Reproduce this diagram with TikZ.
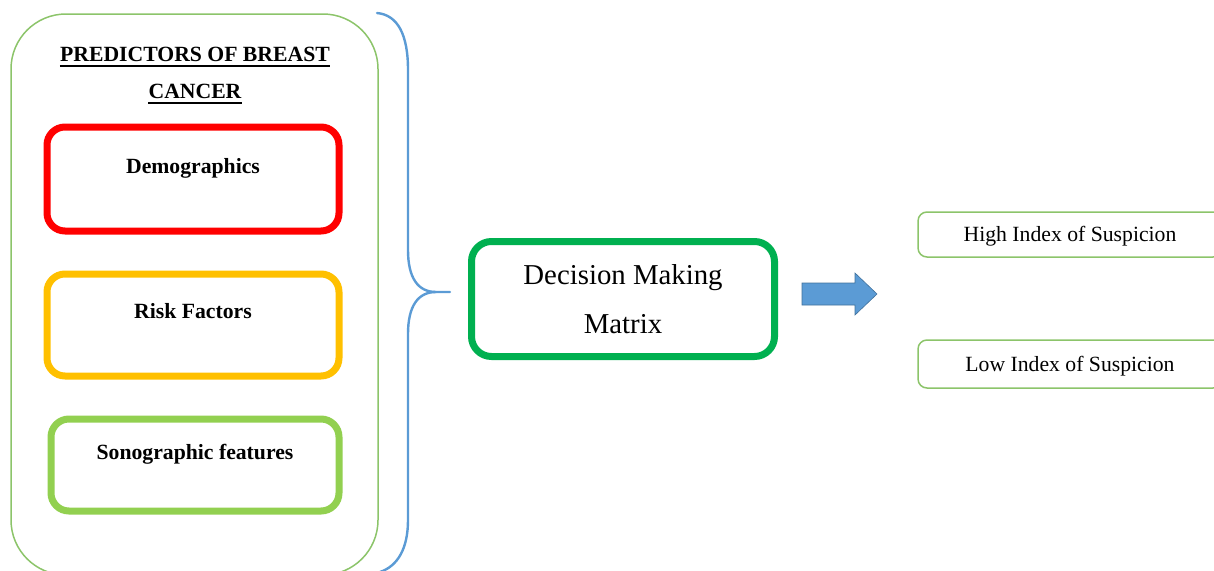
\documentclass[tikz,border=0pt]{standalone}
\usepackage{fontspec}
\setmainfont{Liberation Serif}
\usetikzlibrary{positioning,calc}
\definecolor{predred}{HTML}{FF0000}
\definecolor{predyellow}{HTML}{FFC000}
\definecolor{predgreen}{HTML}{92D050}
\definecolor{framegreen}{HTML}{8CC46A}
\definecolor{decgreen}{HTML}{00B050}
\definecolor{braceblue}{HTML}{5B9BD5}
\definecolor{arrowedge}{HTML}{41719C}
\tikzset{
    framebox/.style={rectangle, rounded corners=55pt, draw=framegreen, line width=1.5pt, inner sep=0pt, outer sep=0pt},
    titletxt/.style={anchor=base, inner sep=0pt, font=\fontsize{21.7}{26}\selectfont\bfseries},
    uline/.style={line width=1.8pt},
    predbox/.style={rectangle, rounded corners=18pt, line width=7pt, minimum width=292pt, inner sep=0pt, outer sep=0pt},
    predtxt/.style={anchor=base, inner sep=0pt, font=\fontsize{21.7}{26}\selectfont\bfseries},
    bracestyle/.style={draw=braceblue, line width=2.4pt, line cap=round},
    decbox/.style={rectangle, rounded corners=20pt, draw=decgreen, line width=7pt, minimum width=303pt, minimum height=115pt, align=center, inner sep=0pt, outer sep=0pt, font=\fontsize{28.8}{49}\selectfont},
    blockarrow/.style={fill=braceblue, draw=arrowedge, line width=0.6pt},
    outcome/.style={rectangle, rounded corners=9pt, draw=framegreen, line width=1.5pt, minimum width=304pt, minimum height=45pt, inner sep=0pt, text height=19pt, font=\fontsize{21.7}{26}\selectfont},
}
\begin{document}
\begin{tikzpicture}[x=1pt, y=-1pt, node distance=43pt]
    \useasboundingbox (0,0) rectangle (1214,570);

    % predictors panel
    \node[framebox, minimum width=367pt, minimum height=561pt] (predictors) at (194.5,294.5) {};
    \node[titletxt] (title1) at (195,61) {PREDICTORS OF BREAST};
    \node[titletxt] (title2) at (195,98) {CANCER};
    \draw[uline] ([yshift=-5pt]title1.base west) -- ([yshift=-5pt]title1.base east);
    \draw[uline] ([yshift=-5pt]title2.base west) -- ([yshift=-5pt]title2.base east);

    \node[predbox, draw=predred, minimum height=104pt] (demo) at (193,179) {};
    \node[predbox, draw=predyellow, minimum height=102pt, below=of demo] (risk) {};
    \node[predbox, draw=predgreen, minimum width=288pt, minimum height=92pt, below=of risk, xshift=2pt] (sono) {};

    \node[predtxt] at ([yshift=-46pt]demo.north) {Demographics};
    \node[predtxt] at ([yshift=-44pt]risk.north) {Risk Factors};
    \node[predtxt] at ([yshift=-40pt]sono.north) {Sonographic features};

    % brace
    \coordinate (bracetip) at (450,292);
    \draw[bracestyle] (377,13) .. controls (398,15) and (408,35) .. (408,70) -- (408,250)
        .. controls (408,278) and (418,292) .. (436,292) -- (bracetip);
    \draw[bracestyle] (436,292) .. controls (418,292) and (408,306) .. (408,334) -- (408,520)
        .. controls (408,548) and (398,566) .. (380,572);

    % decision
    \node[decbox] (decision) at (623,299) {Decision Making\\Matrix};
    \draw[blockarrow] (802,283) -- (855,283) -- (855,273) -- (877,294) -- (855,315) -- (855,305) -- (802,305) -- cycle;

    % outcomes
    \node[outcome] (high) at (1070,234.5) {High Index of Suspicion};
    \node[outcome, minimum height=48pt] (low) at (1070,364) {Low Index of Suspicion};

\end{tikzpicture}
\end{document}
